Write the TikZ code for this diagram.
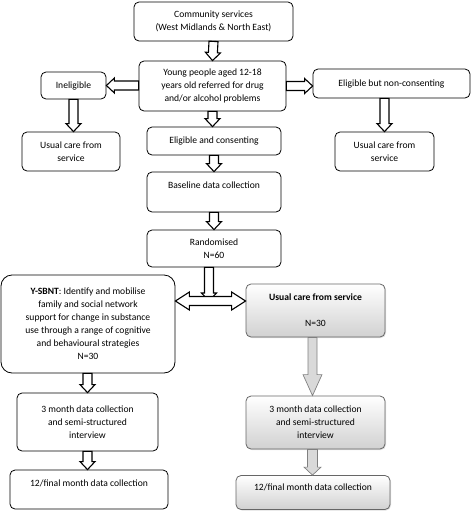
\documentclass[tikz,border=0pt]{standalone}
\usepackage{fontspec}
\setmainfont{Carlito}
\usetikzlibrary{calc,shadows}
\tikzset{
  box/.style={draw, thick, rounded corners=5pt, align=center, inner sep=1pt,
    font=\fontsize{9.6}{13}\selectfont},
  greybox/.style={box, draw=black!60, top color=white, bottom color=black!18,
    drop shadow={opacity=0.25, shadow xshift=1pt, shadow yshift=-1pt}},
  arrshaft/.store in=\arrshaft, arrhead/.store in=\arrhead, arrlen/.store in=\arrlen,
  blk/.style={draw=black, line width=1.1pt, fill=white, line join=miter,
    arrshaft=4.5, arrhead=7.5, arrlen=8},
  greyblk/.style={draw=black!50, line width=0.7pt, fill=black!15, line join=miter},
}
% hollow block arrow from #2 to #3
\newcommand\blockarrow[3][]{%
  \draw[blk,#1] let \p1=(#2), \p2=(#3), \n1={atan2(\y2-\y1,\x2-\x1)},
      \n2={veclen(\x2-\x1,\y2-\y1)} in
    [shift={(\p1)}, rotate=\n1, x=1pt, y=1pt]
    (0,-\arrshaft) -- ({\n2-\arrlen},-\arrshaft) -- ({\n2-\arrlen},-\arrhead)
    -- (\n2,0) -- ({\n2-\arrlen},\arrhead) -- ({\n2-\arrlen},\arrshaft)
    -- (0,\arrshaft) -- cycle;
}
% same, with a head at each end
\newcommand\twoheadarrow[3][]{%
  \draw[blk,#1] let \p1=(#2), \p2=(#3), \n1={atan2(\y2-\y1,\x2-\x1)},
      \n2={veclen(\x2-\x1,\y2-\y1)} in
    [shift={(\p1)}, rotate=\n1, x=1pt, y=1pt]
    (0,0) -- (\arrlen,-\arrhead) -- (\arrlen,-\arrshaft) -- ({\n2-\arrlen},-\arrshaft)
    -- ({\n2-\arrlen},-\arrhead) -- (\n2,0) -- ({\n2-\arrlen},\arrhead)
    -- ({\n2-\arrlen},\arrshaft) -- (\arrlen,\arrshaft) -- (\arrlen,\arrhead) -- cycle;
}
\begin{document}
\begin{tikzpicture}[x=1pt,y=-1pt]
    \useasboundingbox (0,0) rectangle (472,515);
    % top of the flow
    \node[box, minimum width=159pt, minimum height=39pt] (comm) at (213.5,21.5)
        {Community services\\(West Midlands \& North East)};
    \node[box, minimum width=147pt, minimum height=50pt] (young) at (212.5,86)
        {Young people aged 12-18\\years old referred for drug\\and/or alcohol problems};
    \node[box, minimum width=65pt, minimum height=27pt] (inel) at (73.5,85.5) {Ineligible};
    \node[box, minimum width=157pt, minimum height=29pt] (nonc) at (391.5,83.5)
        {Eligible but non-consenting};
    \node[box, minimum width=98pt, minimum height=39pt] (uleft) at (71,151.5)
        {Usual care from\\service};
    \node[box, minimum width=99pt, minimum height=39pt] (uright) at (384.5,151.5)
        {Usual care from\\service};
    \node[box, minimum width=134pt, minimum height=28pt] (elig) at (214,141)
        {Eligible and consenting};
    \node[box, minimum width=134pt, minimum height=40pt] (base) at (214,192)
        {Baseline data collection\\\mbox{}};
    \node[box, minimum width=134pt, minimum height=37pt] (rand) at (214,248.5)
        {Randomised\\N=60};
    % the two arms
    \node[box, rounded corners=11pt, minimum width=174pt, minimum height=98pt] (ysbnt) at (88,324)
        {\textbf{Y-SBNT}: Identify and mobilise\\family and social network\\support for change in substance\\use through a range of cognitive\\and behavioural strategies\\N=30};
    \node[greybox, minimum width=139pt, minimum height=53pt] (ucare) at (315.5,310.5)
        {\textbf{Usual care from service}\\[13pt]N=30};
    \node[box, minimum width=141pt, minimum height=58pt] (m3l) at (87.5,422)
        {3 month data collection\\and semi-structured\\interview};
    \node[box, minimum width=158pt, minimum height=39pt] (f12l) at (89,489.5)
        {12/final month data collection\\\mbox{}};
    \node[greybox, minimum width=139pt, minimum height=53pt] (m3r) at (315.5,422.5)
        {3 month data collection\\and semi-structured\\interview};
    \node[greybox, minimum width=154pt, minimum height=34pt] (f12r) at (313,492.5)
        {12/final month data collection\\[-3pt]\mbox{}};
    \coordinate (split) at (209,301);
    \coordinate (rline) at (312.5,0);
    % arrows
    \blockarrow{comm.south}{young.north}
    \blockarrow{young.west |- inel}{inel.east}
    \blockarrow{young.east}{young.east -| nonc.west}
    \blockarrow{inel.south}{inel.south |- uleft.north}
    \blockarrow{uright.north |- nonc.south}{uright.north}
    \blockarrow{young.south}{young.south |- elig.north}
    \blockarrow{elig.south}{base.north}
    \blockarrow{base.south}{rand.north}
    \blockarrow{rand.south -| split}{split}
    \twoheadarrow[arrhead=9, arrlen=14]{split -| ysbnt.east}{split -| ucare.west}
    \blockarrow{ysbnt.south -| m3l}{m3l.north}
    \blockarrow{m3l.south}{m3l.south |- f12l.north}
    \blockarrow[greyblk, arrshaft=4.5, arrhead=9.5, arrlen=21]{ucare.south -| rline}{m3r.north -| rline}
    \blockarrow[greyblk, arrshaft=5, arrhead=8.5, arrlen=8]{m3r.south -| rline}{f12r.north -| rline}
\end{tikzpicture}
\end{document}
